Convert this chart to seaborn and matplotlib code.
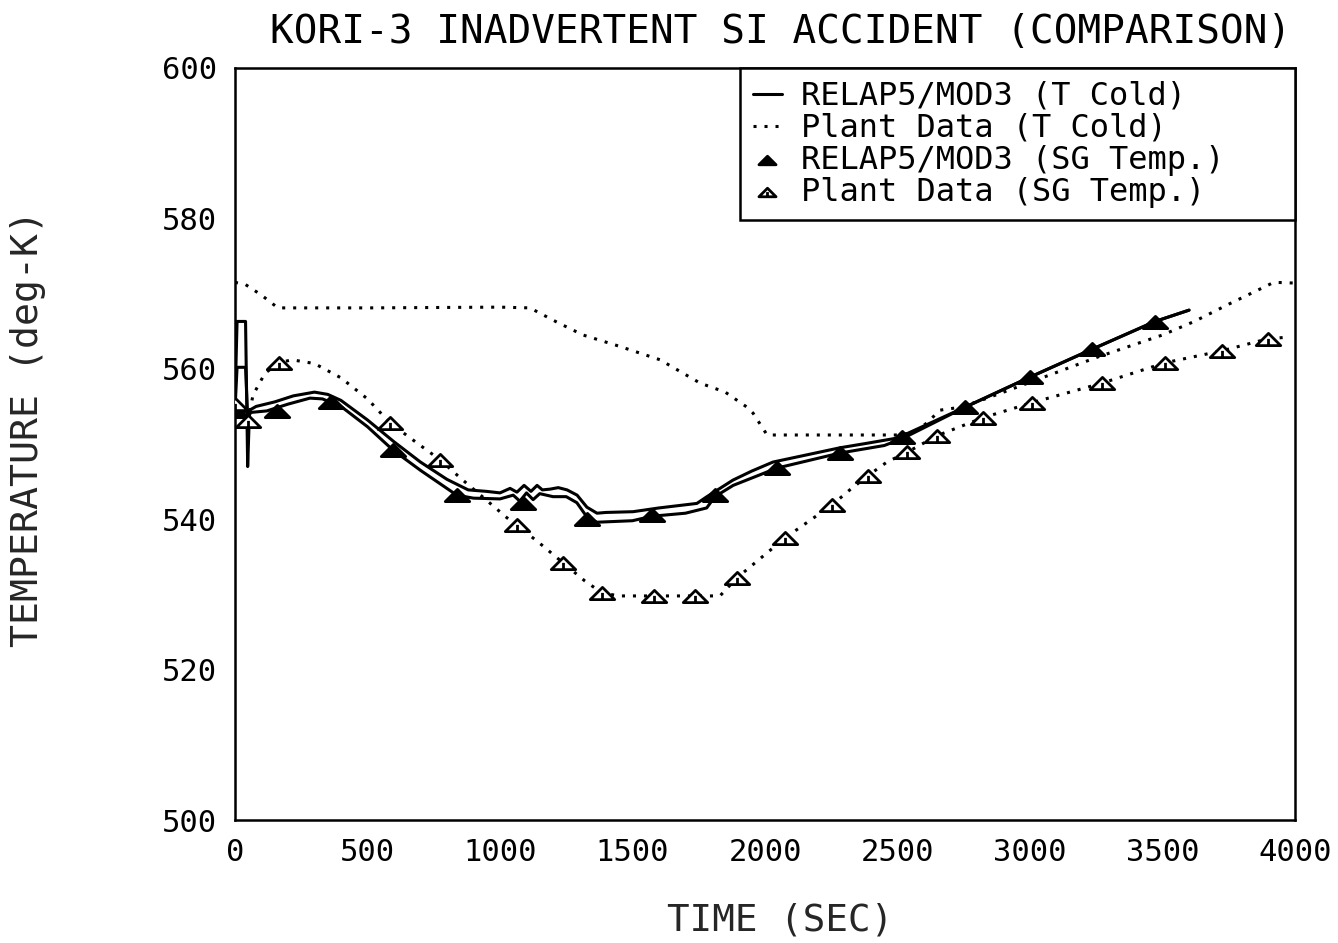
import numpy as np
import pandas as pd
import matplotlib
matplotlib.use("Agg")
import matplotlib.pyplot as plt
from matplotlib.path import Path
import seaborn as sns

# ---------------- data ----------------
relap_tcold_t = [0, 8, 40, 48, 55, 80, 150, 220, 300, 350, 400, 500, 600, 700, 800, 880, 950,
                 1000, 1038, 1064, 1091, 1117, 1140, 1160, 1189, 1220, 1253, 1291, 1328, 1366,
                 1400, 1502, 1600, 1743, 1781, 1879, 1950, 2030, 2150, 2283, 2385, 2500,
                 2755, 3000, 3234, 3472, 3600]
relap_tcold_v = [555.2, 566.3, 566.3, 547.0, 554.5, 555.0, 555.6, 556.4, 556.9, 556.6, 555.8,
                 553.2, 550.3, 547.6, 545.3, 543.9, 543.7, 543.5, 544.1, 543.6, 544.5, 543.7,
                 544.5, 543.9, 544.0, 544.2, 543.9, 543.2, 541.6, 540.8, 540.9, 541.0, 541.5,
                 542.1, 543.0, 545.2, 546.4, 547.6, 548.5, 549.5, 550.1, 550.8, 554.9, 558.9,
                 562.6, 566.3, 567.8]

relap_sg_t = [0, 8, 40, 48, 60, 120, 200, 283, 330, 400, 500, 596, 700, 837, 900, 1000, 1050,
              1075, 1100, 1125, 1150, 1200, 1250, 1290, 1330, 1366, 1500, 1574, 1700, 1780,
              1811, 1880, 2045, 2283, 2450, 2517, 2755, 3000, 3234, 3472, 3600]
relap_sg_v = [554.5, 560.2, 560.2, 553.5, 554.2, 554.4, 555.3, 556.1, 556.0, 555.0, 552.3,
              549.2, 546.5, 543.2, 542.8, 542.7, 543.2, 542.4, 543.5, 542.6, 543.4, 543.0,
              543.0, 542.2, 540.2, 539.6, 539.8, 540.4, 540.8, 541.5, 543.0, 544.5, 546.8,
              548.8, 549.8, 550.7, 554.9, 558.9, 562.6, 566.3, 567.8]
relap_sg_mk_t = [0, 158, 362, 596, 837, 1085, 1328, 1574, 1811, 2045, 2283, 2517, 2755, 3000,
                 3234, 3472]
relap_sg_mk_v = [554.4, 554.4, 555.6, 549.2, 543.2, 542.2, 540.0, 540.6, 543.2, 546.8, 548.8,
                 550.9, 554.9, 558.9, 562.6, 566.2]

plant_tcold_t = [0, 40, 100, 162, 500, 1000, 1113, 1215, 1313, 1450, 1604, 1755, 1850, 1932,
                 1955, 2008, 2498, 2560, 2611, 2660, 2720, 2800, 3000, 3250, 3500, 3620, 3750,
                 3850, 3920, 4000]
plant_tcold_v = [571.5, 571.2, 569.8, 568.1, 568.1, 568.2, 568.1, 566.2, 564.5, 563.0, 561.2,
                 558.1, 556.9, 554.9, 554.1, 551.2, 551.2, 551.5, 552.8, 554.5, 554.8, 555.6,
                 558.2, 561.5, 564.5, 566.3, 568.6, 570.3, 571.5, 571.4]

plant_sg_t = [0, 30, 49, 68, 113, 166, 215, 300, 400, 500, 585, 700, 774, 850, 950, 1026, 1064,
              1150, 1238, 1320, 1385, 1450, 1581, 1736, 1830, 1894, 2000, 2075, 2160, 2253,
              2320, 2389, 2460, 2536, 2649, 2823, 3008, 3272, 3509, 3725, 3898, 3970]
plant_sg_v = [555.3, 554.6, 553.0, 556.5, 559.4, 560.8, 561.2, 560.7, 558.8, 556.0, 552.8,
              549.8, 547.9, 545.5, 542.5, 540.2, 539.2, 536.8, 534.2, 531.8, 530.2, 529.8,
              529.8, 529.8, 529.8, 532.2, 535.3, 537.5, 539.6, 541.9, 543.9, 545.8, 547.6,
              548.9, 551.1, 553.5, 555.5, 558.1, 560.8, 562.4, 564.0, 564.2]
plant_sg_mk_t = [0, 49, 166, 585, 774, 1064, 1238, 1385, 1581, 1736, 1894, 2075, 2253, 2389,
                 2536, 2649, 2823, 3008, 3272, 3509, 3725, 3898]
plant_sg_mk_v = [555.3, 553.0, 560.8, 552.8, 547.9, 539.2, 534.2, 530.2, 529.8, 529.8, 532.2,
                 537.5, 541.9, 545.8, 548.9, 551.1, 553.5, 555.5, 558.1, 560.8, 562.4, 564.0]

labels = ["RELAP5/MOD3 (T Cold)", "Plant Data (T Cold)",
          "RELAP5/MOD3 (SG Temp.)", "Plant Data (SG Temp.)"]
x_ticks = [0, 500, 1000, 1500, 2000, 2500, 3000, 3500, 4000]
y_ticks = [500, 520, 540, 560, 580, 600]
title = "KORI-3 INADVERTENT SI ACCIDENT (COMPARISON)"
xlabel = "TIME (SEC)"
ylabel = "TEMPERATURE (deg-K)"

# ---------------- style ----------------
sns.set_style("white")
plt.rcParams["font.family"] = ["DejaVu Sans Mono", "DejaVu Sans"]
plt.rcParams["axes.edgecolor"] = "black"
plt.rcParams["text.color"] = "black"

fig, ax = plt.subplots(figsize=(13.38, 9.43), dpi=100)
fig.subplots_adjust(left=0.1756, right=0.9679, top=0.9279, bottom=0.1304)

# custom flattened triangle marker with a center stroke
verts = [(-1, -0.5), (0, 0.5), (1, -0.5), (-1, -0.5), (0, -0.5), (0, 0.05)]
codes = [Path.MOVETO, Path.LINETO, Path.LINETO, Path.CLOSEPOLY, Path.MOVETO, Path.LINETO]
tri = Path(verts, codes)

lw = 2.2
dotted = (0, (1, 2.6))

sns.lineplot(x=relap_tcold_t, y=relap_tcold_v, ax=ax, color="black", lw=lw,
             estimator=None, sort=False, label=labels[0])
sns.lineplot(x=plant_tcold_t, y=plant_tcold_v, ax=ax, color="black", lw=lw,
             linestyle=dotted, estimator=None, sort=False, label=labels[1])
sns.lineplot(x=relap_sg_t, y=relap_sg_v, ax=ax, color="black", lw=lw,
             estimator=None, sort=False)
sns.lineplot(x=plant_sg_t, y=plant_sg_v, ax=ax, color="black", lw=lw,
             linestyle=dotted, estimator=None, sort=False)
sns.scatterplot(x=relap_sg_mk_t, y=relap_sg_mk_v, ax=ax, marker=tri, s=310,
                color="black", edgecolor="black", linewidth=2, zorder=5, label=labels[2])
sns.scatterplot(x=plant_sg_mk_t, y=plant_sg_mk_v, ax=ax, marker=tri, s=310,
                color="white", edgecolor="black", linewidth=2, zorder=5, label=labels[3])

ax.set_xlim(0, 4000)
ax.set_ylim(500, 600)
ax.set_xticks(x_ticks)
ax.set_yticks(y_ticks)
ax.tick_params(direction="in", length=10, width=1.8, pad=13, labelsize=22,
               colors="black")
for sp in ax.spines.values():
    sp.set_visible(True)
    sp.set_linewidth(1.8)
    sp.set_color("black")

ax.set_title(title, fontsize=28.4, pad=18, x=0.515)
ax.set_xlabel(xlabel, fontsize=27)
ax.set_ylabel(ylabel, fontsize=27.5)
ax.xaxis.set_label_coords(0.514, -0.11)
ax.yaxis.set_label_coords(-0.178, 0.521)

leg = ax.legend(loc="upper right", bbox_to_anchor=(0.4764, 0.0, 0.5236, 1.0),
                mode="expand", borderaxespad=0,
                frameon=True, fancybox=False, framealpha=1, edgecolor="black",
                fontsize=23, handlelength=0.9, handletextpad=0.6,
                labelspacing=0.03, borderpad=0.4, markerscale=0.7)
leg.get_frame().set_linewidth(1.8)

fig.savefig("out.png", dpi=100, facecolor="white")
